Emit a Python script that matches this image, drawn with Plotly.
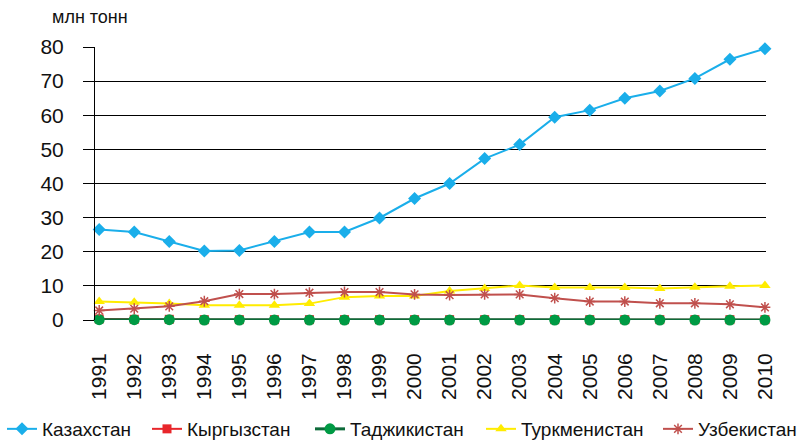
import plotly.graph_objects as go

years = [str(y) for y in range(1991, 2011)]

kazakhstan = [26.5, 25.8, 23.0, 20.2, 20.4, 23.0, 25.8, 25.8, 29.9, 35.6,
              40.0, 47.3, 51.4, 59.4, 61.5, 65.0, 67.1, 70.8, 76.4, 79.5]
kyrgyzstan = [0.3, 0.2, 0.2, 0.1, 0.1, 0.1, 0.1, 0.1, 0.1, 0.1,
              0.1, 0.1, 0.1, 0.1, 0.1, 0.1, 0.1, 0.1, 0.1, 0.1]
tajikistan = [0.1, 0.1, 0.1, 0.0, 0.0, 0.0, 0.0, 0.0, 0.0, 0.0,
              0.0, 0.0, 0.0, 0.0, 0.0, 0.0, 0.0, 0.0, 0.0, 0.0]
turkmenistan = [5.4, 5.2, 4.8, 4.3, 4.3, 4.3, 4.8, 6.7, 7.0, 7.0,
                8.5, 9.2, 10.1, 9.5, 9.5, 9.5, 9.2, 9.6, 9.9, 10.1]
uzbekistan = [2.8, 3.3, 4.0, 5.5, 7.6, 7.6, 8.0, 8.2, 8.2, 7.5,
              7.3, 7.5, 7.5, 6.4, 5.4, 5.4, 4.9, 4.9, 4.6, 3.7]

series = [
    ("Казахстан", kazakhstan, "#1aaeea", "diamond", 10),
    ("Кыргызстан", kyrgyzstan, "#e8262b", "square", 9),
    ("Таджикистан", tajikistan, "#0d6b3a", "circle", 11),
    ("Туркменистан", turkmenistan, "#ffec00", "triangle-up", 10),
    ("Узбекистан", uzbekistan, "#c0504d", "asterisk-open", 9),
]
marker_fill = {"Таджикистан": "#009a44"}
# legend entry left edges in pixels (one legend per series, like the original row)
legend_px = [2, 147, 310, 481, 658]

fig = go.Figure()
for i, (name, vals, col, sym, size) in enumerate(series):
    lg = "legend" if i == 0 else f"legend{i + 1}"
    fig.add_trace(go.Scatter(
        x=years, y=vals, name=name, mode="lines+markers", legend=lg,
        line=dict(color=col, width=2 if name != "Таджикистан" else 3),
        marker=dict(symbol=sym, size=size, color=marker_fill.get(name, col),
                    line=dict(color=col, width=1.5 if sym == "asterisk-open" else 0)),
        cliponaxis=False,
    ))
    fig.update_layout({lg: dict(orientation="h", x=legend_px[i] / 803, xref="container",
                                xanchor="left", y=12 / 441, yref="container",
                                yanchor="middle", font=dict(size=19),
                                itemwidth=30, bgcolor="rgba(0,0,0,0)")})

fig.update_layout(
    width=803, height=441,
    margin=dict(l=95, r=37, t=47, b=121, autoexpand=False),
    plot_bgcolor="white", paper_bgcolor="white",
    font=dict(family="Liberation Sans, Arial, sans-serif", color="#111"),
    showlegend=True,
    xaxis=dict(type="category", range=[-0.12, 19.03], tickangle=-90,
               showgrid=False, showline=False, ticks="", automargin=False,
               tickfont=dict(size=21), ticklabelstandoff=28),
    yaxis=dict(range=[0, 80], dtick=10, showgrid=True, gridcolor="black",
               gridwidth=1, showline=True, linecolor="black", linewidth=1,
               ticks="outside", ticklen=11, tickcolor="black", automargin=False,
               tickfont=dict(size=21), ticklabelstandoff=15, zeroline=False),
    annotations=[dict(text="млн тонн", x=-0.067, y=1.11, xref="paper",
                      yref="paper", xanchor="left", yanchor="middle",
                      showarrow=False, font=dict(size=18))],
)

fig.write_html("out.html", config={"displayModeBar": False},
               post_script="document.body.style.margin='0';")
